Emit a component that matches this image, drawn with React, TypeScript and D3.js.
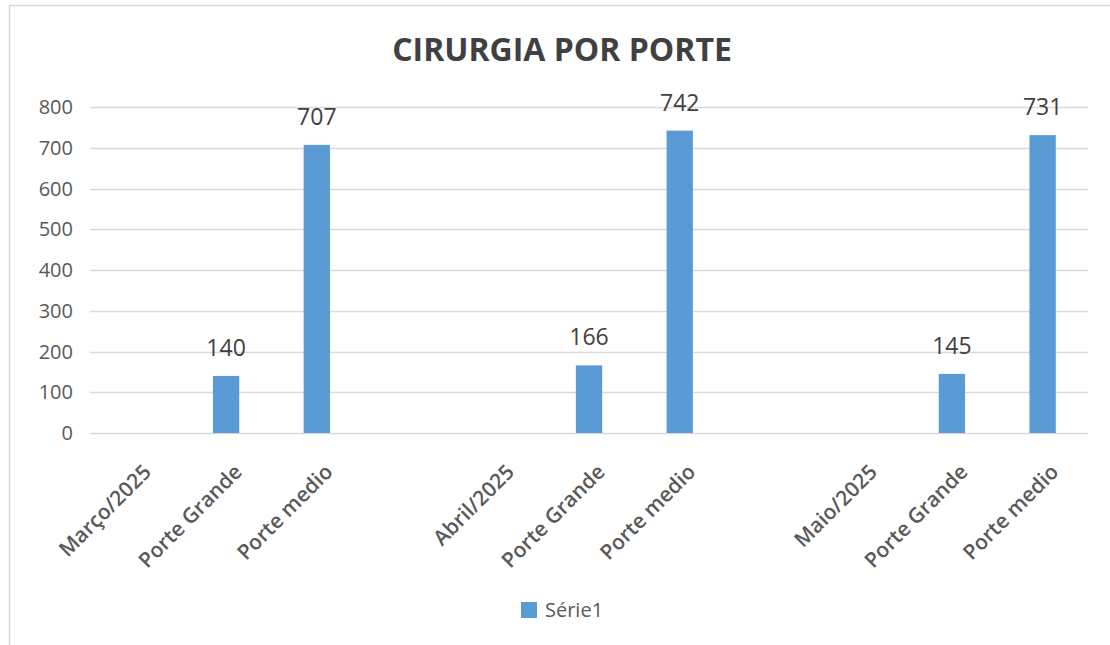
import React, { useEffect, useRef } from 'react';
import * as d3 from 'd3';

// categories (blank slots keep the gap between months)
const categories = [
  'Março/2025', 'Porte Grande', 'Porte medio', '',
  'Abril/2025', 'Porte Grande', 'Porte medio', '',
  'Maio/2025', 'Porte Grande', 'Porte medio',
];
const serie1: (number | null)[] = [null, 140, 707, null, null, 166, 742, null, null, 145, 731];
const yTicks = [0, 100, 200, 300, 400, 500, 600, 700, 800];
const title = 'CIRURGIA POR PORTE';
const seriesName = 'Série1';

const W = 1110;
const H = 645;
const BLUE = '#5b9bd5';
const FONT = "'Open Sans', 'Liberation Sans', sans-serif";

export default function App() {
  const svgRef = useRef<SVGSVGElement>(null);

  useEffect(() => {
    if (!svgRef.current) return;
    const svg = d3.select(svgRef.current);
    svg.selectAll('*').remove();

    const margin = { left: 90, right: W - 1088, top: 107, bottom: H - 433 };

    // chart frame
    svg.append('rect')
      .attr('x', 9.5).attr('y', 5.5)
      .attr('width', W + 20).attr('height', H + 20)
      .attr('fill', '#fff')
      .attr('stroke', '#d9d9d9')
      .attr('stroke-width', 1.5);

    svg.append('text')
      .attr('x', 562).attr('y', 61)
      .attr('text-anchor', 'middle')
      .style('font-family', FONT)
      .style('font-weight', 700)
      .style('font-size', '32px')
      .attr('fill', '#404040')
      .text(title);

    const x = d3.scaleBand<number>()
      .domain(categories.map((_, i) => i))
      .range([margin.left, W - margin.right])
      .paddingInner(0.71)
      .paddingOuter(0.355);

    const y = d3.scaleLinear().domain([0, 800]).range([H - margin.bottom, margin.top]);

    // gridlines
    svg.append('g')
      .selectAll('line')
      .data(yTicks)
      .join('line')
      .attr('x1', margin.left).attr('x2', W - margin.right)
      .attr('y1', d => Math.round(y(d)) + 0.5).attr('y2', d => Math.round(y(d)) + 0.5)
      .attr('stroke', '#d9d9d9')
      .attr('stroke-width', 1.5);

    // y labels
    svg.append('g')
      .selectAll('text')
      .data(yTicks)
      .join('text')
      .attr('x', 73)
      .attr('y', d => y(d))
      .attr('dy', '0.35em')
      .attr('text-anchor', 'end')
      .style('font-family', FONT)
      .style('font-size', '20px')
      .attr('fill', '#595959')
      .text(d => d);

    const bars = categories.map((c, i) => ({ i, c, v: serie1[i] })).filter(d => d.v != null);

    svg.append('g')
      .selectAll('rect')
      .data(bars)
      .join('rect')
      .attr('x', d => x(d.i)!)
      .attr('width', x.bandwidth())
      .attr('y', d => y(d.v as number))
      .attr('height', d => y(0) - y(d.v as number))
      .attr('fill', BLUE);

    svg.append('g')
      .selectAll('text')
      .data(bars)
      .join('text')
      .attr('x', d => x(d.i)! + x.bandwidth() / 2)
      .attr('y', d => y(d.v as number) - 20)
      .attr('text-anchor', 'middle')
      .style('font-family', FONT)
      .style('font-size', '23px')
      .attr('fill', '#404040')
      .text(d => d.v as number);

    // rotated category labels
    svg.append('g')
      .selectAll('text')
      .data(categories.map((c, i) => ({ c, i })).filter(d => d.c))
      .join('text')
      .attr('transform', d => `translate(${x(d.i)! + x.bandwidth() / 2 + 12},${468}) rotate(-45)`)
      .attr('text-anchor', 'end')
      .attr('dy', '0.35em')
      .style('font-family', FONT)
      .style('font-weight', 600)
      .style('font-size', '21px')
      .attr('fill', '#595959')
      .text(d => d.c);

    // legend
    const lg = svg.append('g').attr('transform', 'translate(521,602)');
    lg.append('rect').attr('width', 16).attr('height', 16).attr('fill', BLUE);
    lg.append('text')
      .attr('x', 24).attr('y', 8)
      .attr('dy', '0.35em')
      .style('font-family', FONT)
      .style('font-size', '20px')
      .attr('fill', '#595959')
      .text(seriesName);
  }, []);

  return (
    <svg
      ref={svgRef}
      width={W}
      height={H}
      style={{ position: 'absolute', left: 0, top: 0, background: '#fff' }}
    />
  );
}
